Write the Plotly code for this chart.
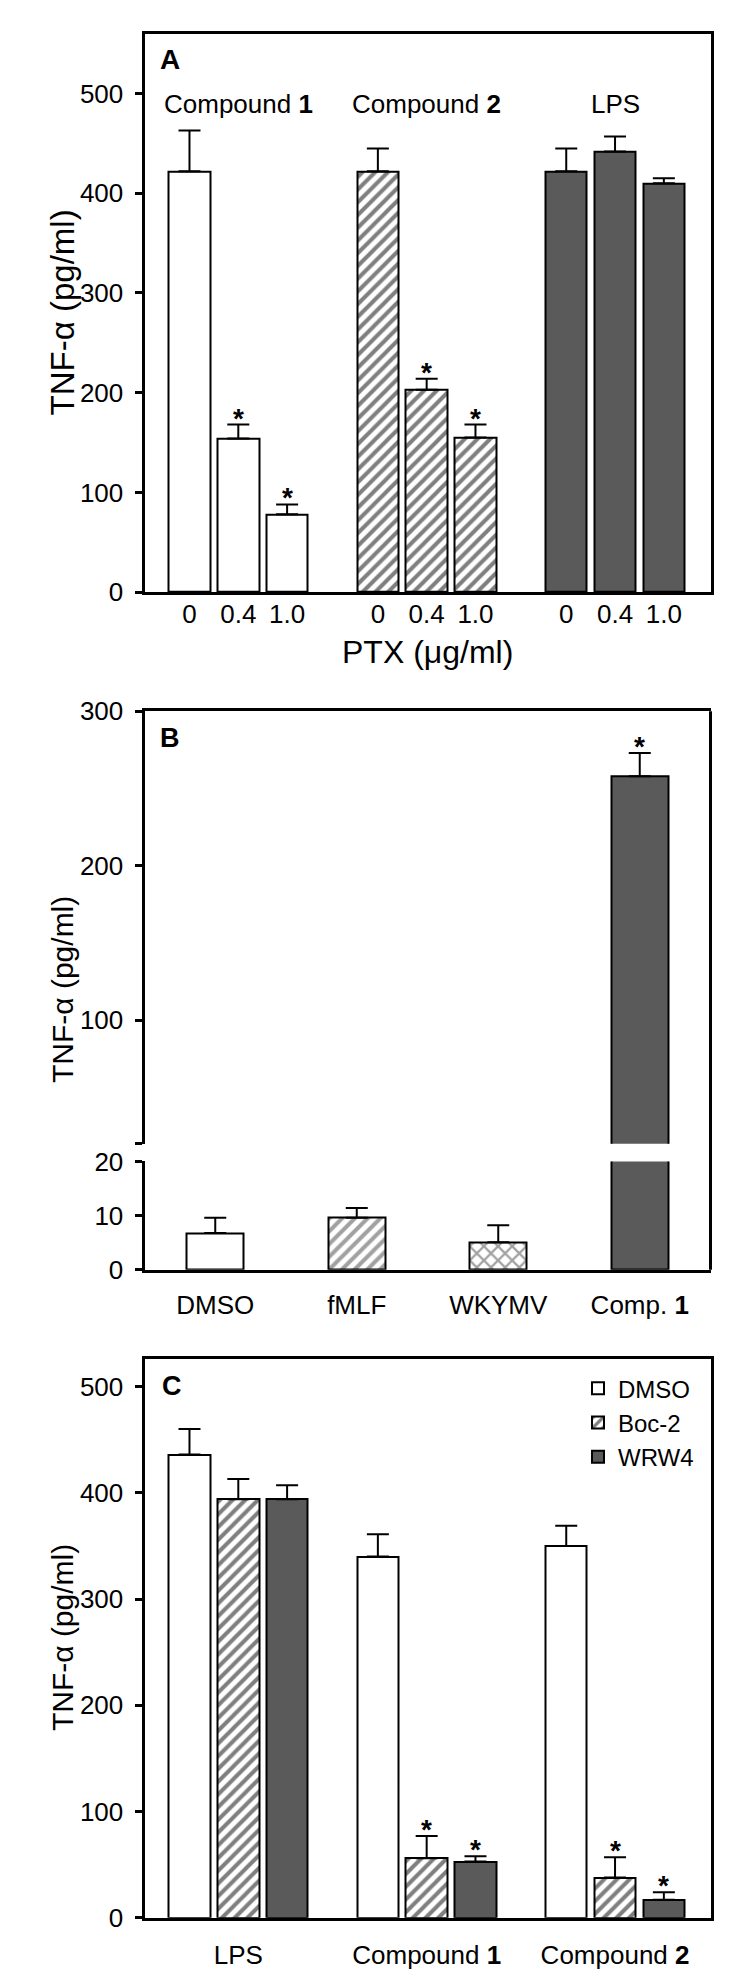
import plotly.graph_objects as go

W, H = 750, 1986

# ---------------- Data ----------------
A_groups = ["Compound <b>1</b>", "Compound <b>2</b>", "LPS"]
A_doses = ["0", "0.4", "1.0"]
A_compound1 = [422, 154, 78]
A_compound1_err = [41, 14, 10]
A_compound1_sig = [False, True, True]
A_compound2 = [422, 203, 155]
A_compound2_err = [23, 11, 13]
A_compound2_sig = [False, True, True]
A_lps = [422, 442, 410]
A_lps_err = [23, 15, 5]
A_lps_sig = [False, False, False]

B_labels = ["DMSO", "fMLF", "WKYMV", "Comp. <b>1</b>"]
B_values = [6.8, 9.6, 5.1, 258]
B_err = [2.8, 1.8, 3.1, 15]
B_sig = [False, False, False, True]

C_groups = ["LPS", "Compound <b>1</b>", "Compound <b>2</b>"]
C_series = ["DMSO", "Boc-2", "WRW4"]
C_dmso = [436, 340, 350]
C_dmso_err = [24, 21, 19]
C_dmso_sig = [False, False, False]
C_boc2 = [394, 56, 38]
C_boc2_err = [19, 21, 19]
C_boc2_sig = [False, True, True]
C_wrw4 = [394, 53, 17]
C_wrw4_err = [13, 5, 7]
C_wrw4_sig = [False, True, True]

# ---------------- Styles ----------------
FONT = "Liberation Sans, Arial, Helvetica, sans-serif"
GRAY = "#5a5a5a"
GROUP_STEP = 3.86
BAR_W = 0.85
LINE = dict(color="black", width=2)


def pos(g, i):
    return g * GROUP_STEP + i


def fx(px):
    return px / W


def fy(py):
    return 1 - py / H


HATCH = dict(shape="/", fgcolor="black", bgcolor="white", size=9, solidity=0.45)


def style(kind):
    if kind == "white":
        return dict(color="white", line=LINE)
    if kind == "hatch":
        return dict(color="white", line=LINE, pattern=HATCH)
    return dict(color=GRAY, line=LINE)


def err(arr):
    return dict(type="data", array=arr, arrayminus=[0] * len(arr), symmetric=False,
                color="black", thickness=2, width=11)


fig = go.Figure()
annotations = []


def star(x, y, xref, yref):
    annotations.append(dict(x=x, y=y, xref=xref, yref=yref, text="<b>*</b>", showarrow=False,
                            yanchor="bottom", yshift=-11, font=dict(size=28, family=FONT, color="black")))


def label(xp, yp, text, size, bold=False, angle=0, xref="paper"):
    annotations.append(dict(x=xp, y=yp, xref=xref, yref="paper", text=f"<b>{text}</b>" if bold else text,
                            showarrow=False, xanchor="center", yanchor="middle", textangle=angle,
                            font=dict(size=size, family=FONT, color="black")))


# ---------------- Panel A ----------------
for g, (vals, errs, sig, kind) in enumerate([
        (A_compound1, A_compound1_err, A_compound1_sig, "white"),
        (A_compound2, A_compound2_err, A_compound2_sig, "hatch"),
        (A_lps, A_lps_err, A_lps_sig, "gray")]):
    xs = [pos(g, i) for i in range(len(vals))]
    fig.add_trace(go.Bar(x=xs, y=vals, width=BAR_W, marker=style(kind), error_y=err(errs),
                         xaxis="x", yaxis="y", showlegend=False))
    for x, v, e, s in zip(xs, vals, errs, sig):
        if s:
            star(x, v + e, "x", "y")
    label(pos(g, 1), fy(90), A_groups[g], 26, xref="x")

# ---------------- Panel B (broken axis) ----------------
b_colors = ["white", "white", "white", GRAY]
b_shapes = ["", "/", "x", ""]
b_x = list(range(len(B_values)))
for xa, ya in [("x2", "y2"), ("x3", "y3")]:
    fig.add_trace(go.Bar(x=b_x, y=B_values, width=0.4,
                         marker=dict(color=b_colors, line=LINE,
                                     pattern=dict(shape=b_shapes, fgcolor="black", bgcolor="white",
                                                  size=[9, 9, 10, 9], solidity=[0.4, 0.45, 0.4, 0.4])),
                         error_y=err(B_err), xaxis=xa, yaxis=ya, showlegend=False))
for x, v, e, s in zip(b_x, B_values, B_err, B_sig):
    if s:
        star(x, v + e, "x3", "y3")

# ---------------- Panel C ----------------
for s_i, (name, vals, errs, sig, kind) in enumerate([
        ("DMSO", C_dmso, C_dmso_err, C_dmso_sig, "white"),
        ("Boc-2", C_boc2, C_boc2_err, C_boc2_sig, "hatch"),
        ("WRW4", C_wrw4, C_wrw4_err, C_wrw4_sig, "gray")]):
    xs = [pos(g, s_i) for g in range(len(vals))]
    fig.add_trace(go.Bar(x=xs, y=vals, width=BAR_W, name=name, marker=style(kind), error_y=err(errs),
                         xaxis="x4", yaxis="y4", showlegend=True))
    for x, v, e, s in zip(xs, vals, errs, sig):
        if s:
            star(x, v + e, "x4", "y4")

# ---------------- Text ----------------
label(fx(427.5), fy(647), "PTX (μg/ml)", 32)
label(fx(62), fy(302), "TNF-α (pg/ml)", 33, angle=-90)
label(fx(62), fy(990), "TNF-α (pg/ml)", 30, angle=-90)
label(fx(62), fy(1648), "TNF-α (pg/ml)", 30, angle=-90)
label(fx(170), fy(45), "A", 28, bold=True)
label(fx(170), fy(734), "B", 27, bold=True)
label(fx(172), fy(1392), "C", 27, bold=True)

# ---------------- Axes ----------------
XD = [fx(144.5), fx(710.5)]
TICKFONT = dict(size=26, family=FONT, color="black")
base_y = dict(showline=True, linewidth=3, linecolor="black", ticks="outside", ticklen=7, tickwidth=3,
              tickcolor="black", showgrid=False, zeroline=False, tickfont=TICKFONT, ticklabelstandoff=6)
base_x = dict(showline=True, linewidth=3, linecolor="black", ticks="", showgrid=False, zeroline=False,
              tickfont=TICKFONT)

a_ticks = [pos(g, i) for g in range(3) for i in range(3)]
c_ticks = [pos(g, 1) for g in range(3)]
xr = [-0.922, 10.676]

fig.update_layout(
    width=W, height=H, autosize=False, margin=dict(l=0, r=0, t=0, b=0),
    paper_bgcolor="white", plot_bgcolor="rgba(0,0,0,0)",
    font=dict(family=FONT, color="black"),
    bargap=0,
    xaxis=dict(base_x, domain=XD, range=xr, anchor="y", mirror=True, tickvals=a_ticks,
               ticktext=A_doses * 3, ticklabelstandoff=-3),
    yaxis=dict(base_y, domain=[fy(586), fy(19)], range=[0, 560], anchor="x", mirror=True,
               tickvals=[0, 100, 200, 300, 400, 500]),
    xaxis2=dict(base_x, domain=XD, range=[-0.5, 3.5], anchor="y2", tickvals=b_x, ticktext=B_labels,
                ticklabelstandoff=10),
    yaxis2=dict(base_y, domain=[fy(1274), fy(1164)], range=[0, 20], anchor="x2",
                tickvals=[0, 10, 20]),
    xaxis3=dict(base_x, domain=XD, range=[-0.5, 3.5], anchor="y3", side="top", showticklabels=False,
                matches="x2"),
    yaxis3=dict(base_y, domain=[fy(1146), fy(707)], range=[20, 300], anchor="x3",
                tickvals=[20, 100, 200, 300], ticktext=["", "100", "200", "300"]),
    xaxis4=dict(base_x, domain=XD, range=xr, anchor="y4", mirror=True, tickvals=c_ticks,
                ticktext=C_groups, ticklabelstandoff=12),
    yaxis4=dict(base_y, domain=[fy(1932), fy(1364.5)], range=[0, 526], anchor="x4", mirror=True,
                tickvals=[0, 100, 200, 300, 400, 500]),
    legend=dict(x=fx(578), y=fy(1372), xanchor="left", yanchor="top", bgcolor="rgba(0,0,0,0)",
                font=dict(size=24, family=FONT, color="black"), borderwidth=0),
    annotations=annotations,
    shapes=[dict(type="line", xref="paper", yref="paper", x0=fx(710.5), x1=fx(710.5),
                 y0=fy(1274), y1=fy(707), line=dict(color="black", width=3))],
)

fig.write_html("out.html", config={"displayModeBar": False},
               post_script="document.body.style.margin='0px';document.body.style.overflow='hidden';")
